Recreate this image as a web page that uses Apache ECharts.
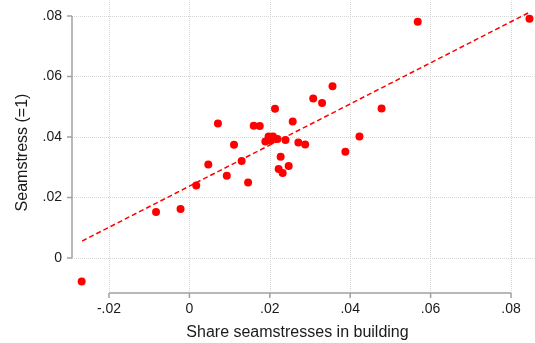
<!DOCTYPE html>
<html>
<head>
<meta charset="utf-8">
<script src="https://cdn.jsdelivr.net/npm/echarts@6/dist/echarts.min.js"></script>
<style>html,body{margin:0;padding:0;background:#fff}#c{width:535px;height:343px}</style>
</head>
<body>
<div id="c"></div>
<script>
// Data
const shareX = [-0.0268,-0.0083,-0.0022,0.0017,0.0047,0.0071,0.0093,0.0111,0.0130,0.0146,0.0160,0.0175,0.0189,0.0197,0.0208,0.0202,0.0219,0.0239,0.0213,0.0257,0.0271,0.0288,0.0227,0.0222,0.0232,0.0247,0.0308,0.0330,0.0356,0.0388,0.0423,0.0478,0.0568,0.0846];
const seamY  = [-0.0078,0.0152,0.0162,0.0240,0.0309,0.0445,0.0272,0.0374,0.0321,0.0250,0.0437,0.0436,0.0385,0.0402,0.0402,0.0388,0.0393,0.0390,0.0493,0.0451,0.0382,0.0375,0.0335,0.0294,0.0281,0.0304,0.0527,0.0512,0.0568,0.0351,0.0402,0.0494,0.0781,0.0791];
const fitX = [-0.0267, 0.0844];
const fitY = [0.0056, 0.0811];
const xTicks = [-0.02, 0, 0.02, 0.04, 0.06, 0.08];
const xTickLabels = ["-.02", "0", ".02", ".04", ".06", ".08"];
const yTicks = [0, 0.02, 0.04, 0.06, 0.08];
const yTickLabels = ["0", ".02", ".04", ".06", ".08"];

const W = 535, H = 343;
// tick-range box (where the axis lines run)
const bL = 109, bR = 511, bT = 16, bB = 258;
// plot region (grid lines span this)
const pL = 72, pR = 534.5, pT = 0.5, pB = 293;
// data grid (a bit larger so ticks are inside it)
const gL = 60, gR = 535, gT = 0, gB = 305;
const xMin = xTicks[0], xMax = xTicks[xTicks.length-1];
const yMin = yTicks[0], yMax = yTicks[yTicks.length-1];
const kx = (bR - bL) / (xMax - xMin), ky = (bB - bT) / (yMax - yMin);
const valX = px => xMin + (px - bL) / kx;
const valY = py => yMin + (bB - py) / ky;
const tickLen = 5;

function lab(ticks, labels) {
  return function (v) {
    for (let i = 0; i < ticks.length; i++) if (Math.abs(ticks[i] - v) < 1e-9) return labels[i];
    return '';
  };
}
const font = "'Liberation Sans', Arial, sans-serif";
const axisCol = '#a0a0a0';
const gridCol = '#d6d6d6';
const txtCol = '#1a1a1a';

const pts = shareX.map((x, i) => [x, seamY[i]]);
const fit = fitX.map((x, i) => [x, fitY[i]]);
const gridLines = xTicks.map(v => [{coord: [v, valY(pB)]}, {coord: [v, valY(pT)]}])
  .concat(yTicks.map(v => [{coord: [valX(pL), v]}, {coord: [valX(pL + 0.5 - 0.5), v]}].length ? [{coord: [valX(pL), v]}, {coord: [valX(pR), v]}] : null));

// axis lines and ticks (axis spans the tick range only), drawn as line segments
const axisSegs = [
  [[xMin, valY(pB)], [xMax, valY(pB)]],
  [[valX(pL), yMin], [valX(pL), yMax]]
].concat(xTicks.map(v => [[v, valY(pB)], [v, valY(pB + tickLen)]]))
 .concat(yTicks.map(v => [[valX(pL), v], [valX(pL - tickLen), v]]));

const axisSeries = axisSegs.map(seg => ({
  type: 'line', xAxisIndex: 0, yAxisIndex: 0, data: seg, symbol: 'none', showSymbol: false,
  silent: true, clip: false, z: 2, animation: false,
  lineStyle: {color: axisCol, width: 1.5, type: 'solid'},
  emphasis: {disabled: true}
}));

const hiddenAxis = (g) => ({type: 'value', gridIndex: g, min: 1, max: 2, show: false});

const chart = echarts.init(document.getElementById('c'), null, {renderer: 'canvas', width: W, height: H});
chart.setOption({
  animation: false,
  backgroundColor: '#ffffff',
  textStyle: {fontFamily: font},
  grid: [
    {left: gL, right: W - gR, top: gT, bottom: H - gB, outerBoundsMode: 'none'},
    {left: bL, right: W - bR, top: 0, bottom: H - pB, outerBoundsMode: 'none'},
    {left: pL, right: 0, top: bT, bottom: H - bB, outerBoundsMode: 'none'}
  ],
  xAxis: [
    {type: 'value', gridIndex: 0, min: valX(gL), max: valX(gR),
     axisLine: {show: false}, axisTick: {show: false}, axisLabel: {show: false}, splitLine: {show: false},
     name: 'Share seamstresses in building', nameLocation: 'middle', nameGap: 20,
     nameTextStyle: {fontSize: 16, color: txtCol, fontFamily: font}},
    {type: 'value', gridIndex: 1, min: xMin, max: xMax, interval: 0.02,
     axisLine: {show: false}, axisTick: {show: false},
     axisLabel: {show: true, margin: 9, fontSize: 14, color: txtCol, fontFamily: font, formatter: lab(xTicks, xTickLabels)},
     splitLine: {show: false}},
    hiddenAxis(2)
  ],
  yAxis: [
    {type: 'value', gridIndex: 0, min: valY(gB), max: valY(gT),
     axisLine: {show: false}, axisTick: {show: false}, axisLabel: {show: false}, splitLine: {show: false},
     name: 'Seamstress (=1)', nameLocation: 'middle', nameGap: 29, nameRotate: 90,
     nameTextStyle: {fontSize: 16, color: txtCol, fontFamily: font}},
    hiddenAxis(1),
    {type: 'value', gridIndex: 2, min: yMin, max: yMax, interval: 0.02,
     axisLine: {show: false}, axisTick: {show: false},
     axisLabel: {show: true, margin: 10, fontSize: 14, color: txtCol, fontFamily: font, formatter: lab(yTicks, yTickLabels)},
     splitLine: {show: false}}
  ],
  series: [
    {type: 'line', xAxisIndex: 0, yAxisIndex: 0, data: [], symbol: 'none', z: 1, clip: false,
     markLine: {silent: true, symbol: 'none', label: {show: false}, animation: false, z: 1,
       lineStyle: {color: gridCol, type: 'dotted', width: 1}, data: gridLines}}
  ].concat(axisSeries).concat([
    {type: 'scatter', xAxisIndex: 0, yAxisIndex: 0, data: pts, symbolSize: 8,
     itemStyle: {color: '#ff0000', opacity: 1}, z: 5},
    {type: 'line', xAxisIndex: 0, yAxisIndex: 0, data: fit, symbol: 'none', z: 6,
     lineStyle: {color: '#ff0000', type: [5, 3], width: 1.5}},
    {type: 'scatter', xAxisIndex: 1, yAxisIndex: 1, data: []},
    {type: 'scatter', xAxisIndex: 2, yAxisIndex: 2, data: []}
  ])
});
</script>
</body>
</html>
